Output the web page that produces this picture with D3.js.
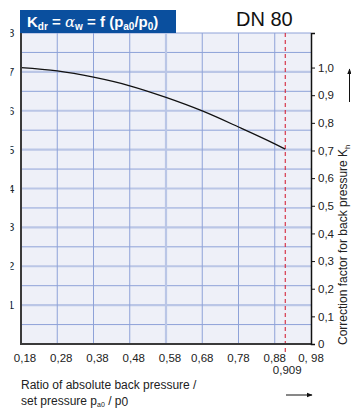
<!DOCTYPE html>
<html>
<head>
<meta charset="utf-8">
<script src="https://cdn.jsdelivr.net/npm/d3@7"></script>
<style>
  body { margin: 0; background: #fff; }
  svg { display: block; font-family: "Liberation Sans", Arial, sans-serif; }
</style>
</head>
<body>
<div id="chart"></div>
<script>
// curve Kdr over pa0/p0
const ratio = [0.18, 0.28, 0.38, 0.48, 0.58, 0.68, 0.78, 0.88, 0.909];
const kdr = [1.0, 0.988, 0.965, 0.934, 0.892, 0.843, 0.785, 0.724, 0.705];

const xTicks = [0.18, 0.28, 0.38, 0.48, 0.58, 0.68, 0.78, 0.88, 0.98];
const xTickLabels = ["0,18", "0,28", "0,38", "0,48", "0,58", "0,68", "0,78", "0,88", "0, 98"];
const yTicks = [0, 0.1, 0.2, 0.3, 0.4, 0.5, 0.6, 0.7, 0.8, 0.9, 1.0];
const leftTicks = [1, 2, 3, 4, 5, 6, 7, 8];
const limit = 0.909;

const width = 351, height = 412;
const margin = { top: 33, right: 40, bottom: 68, left: 21 };

const svg = d3.select("#chart").append("svg")
  .attr("width", width)
  .attr("height", height);

const x = d3.scaleLinear().domain([0.18, 0.98]).range([margin.left, width - margin.right]);
const y = d3.scaleLinear().domain([0, 1.125]).range([height - margin.bottom, margin.top]);
const yLeft = d3.scaleLinear().domain([0, 8]).range([height - margin.bottom, margin.top]);

const x0 = x.range()[0], x1 = x.range()[1];
const yB = y.range()[0], yT = y.range()[1];

// plot background
svg.append("rect")
  .attr("x", x0).attr("y", yT)
  .attr("width", x1 - x0).attr("height", yB - yT)
  .attr("fill", "#eef0f8");

// horizontal grid, half steps of the left scale
const hLines = d3.range(0.5, 8.01, 0.5);
svg.append("g").selectAll("line")
  .data(hLines)
  .join("line")
  .attr("x1", x0).attr("x2", x1)
  .attr("y1", d => yLeft(d)).attr("y2", d => yLeft(d))
  .attr("stroke", d => (d % 1 === 0 && d < 8) ? "#bac6e6" : "#8ea2d8")
  .attr("stroke-width", d => (d % 1 === 0 && d < 8) ? 2.2 : 1);

// vertical grid
svg.append("g").selectAll("line")
  .data(xTicks.slice(1, -1))
  .join("line")
  .attr("x1", d => x(d)).attr("x2", d => x(d))
  .attr("y1", yT).attr("y2", yB)
  .attr("stroke", d => d === 0.58 ? "#bac6e6" : "#8ea2d8")
  .attr("stroke-width", d => d === 0.58 ? 2.2 : 1);

// limit line
svg.append("line")
  .attr("x1", x(limit)).attr("x2", x(limit))
  .attr("y1", yT).attr("y2", yB + 9)
  .attr("stroke", "#d4263c")
  .attr("stroke-width", 1.1)
  .attr("stroke-dasharray", "4,3");

// curve
const pts = ratio.map((r, i) => [r, kdr[i]]);
const line = d3.line()
  .x(d => x(d[0]))
  .y(d => y(d[1]))
  .curve(d3.curveMonotoneX);

svg.append("path")
  .datum(pts)
  .attr("d", line)
  .attr("fill", "none")
  .attr("stroke", "#111")
  .attr("stroke-width", 1.3);

// frame lines
svg.append("line")
  .attr("x1", x0).attr("x2", x0).attr("y1", yT).attr("y2", yB + 1)
  .attr("stroke", "#3a3a3a").attr("stroke-width", 2);
svg.append("line")
  .attr("x1", x0 - 1).attr("x2", x1).attr("y1", yB).attr("y2", yB)
  .attr("stroke", "#3a3a3a").attr("stroke-width", 2);

// right axis
const yAxis = d3.axisRight(y)
  .tickValues(yTicks)
  .tickSize(4)
  .tickPadding(3)
  .tickFormat(d => d === 0 ? "0" : d3.format(".1f")(d).replace(".", ","));

const ya = svg.append("g")
  .attr("transform", `translate(${x1},0)`)
  .call(yAxis);
ya.select(".domain").attr("stroke", "#111").attr("stroke-width", 1.5);
ya.selectAll(".tick line").attr("stroke", "#111");
ya.selectAll(".tick text")
  .attr("fill", "#222")
  .style("font-size", "11.5px")
  .style("font-family", "Liberation Sans, Arial, sans-serif");

// bottom labels
svg.append("g").selectAll("text")
  .data(xTicks)
  .join("text")
  .attr("x", (d, i) => x(d) + (i < 5 ? 4 : 0))
  .attr("y", yB + 17.5)
  .attr("text-anchor", "middle")
  .attr("fill", "#222")
  .style("font-size", "11.5px")
  .text((d, i) => xTickLabels[i]);

svg.append("text")
  .attr("x", x(limit) + 2)
  .attr("y", yB + 29.5)
  .attr("text-anchor", "middle")
  .attr("fill", "#222")
  .style("font-size", "11.5px")
  .text("0,909");

// left labels, cut off at the image edge
svg.append("clipPath").attr("id", "leftClip")
  .append("rect").attr("x", 10.5).attr("y", 0).attr("width", 10).attr("height", height);

svg.append("g")
  .attr("clip-path", "url(#leftClip)")
  .selectAll("text")
  .data(leftTicks)
  .join("text")
  .attr("x", 14.5)
  .attr("y", d => yLeft(d))
  .attr("dy", "0.35em")
  .attr("text-anchor", "end")
  .attr("fill", "#222")
  .style("font-size", "11.5px")
  .text(d => d);

// header box
svg.append("rect")
  .attr("x", 20).attr("y", 10)
  .attr("width", 156).attr("height", 23)
  .attr("fill", "#0a4f9e");

const head = svg.append("text")
  .attr("x", 27).attr("y", 27)
  .attr("fill", "#fff")
  .style("font-size", "15px")
  .style("font-weight", "bold");
head.append("tspan").text("K");
head.append("tspan").attr("dy", 3).style("font-size", "10px").text("dr");
head.append("tspan").attr("dy", -3).text(" = ");
head.append("tspan").style("font-weight", "normal").style("font-family", "DejaVu Serif, serif").style("font-style", "italic").text("α");
head.append("tspan").attr("dy", 3).style("font-size", "10px").text("w");
head.append("tspan").attr("dy", -3).text(" = f (p");
head.append("tspan").attr("dy", 3).style("font-size", "10px").text("a0");
head.append("tspan").attr("dy", -3).text("/p");
head.append("tspan").attr("dy", 3).style("font-size", "10px").text("0");
head.append("tspan").attr("dy", -3).text(")");

svg.append("text")
  .attr("x", 236).attr("y", 26)
  .attr("fill", "#111")
  .style("font-size", "20px")
  .text("DN 80");

// right title
const rt = svg.append("text")
  .attr("transform", `translate(347,${yB + 1}) rotate(-90)`)
  .attr("fill", "#222")
  .style("font-size", "12px");
rt.append("tspan").text("Correction factor for back pressure K");
rt.append("tspan").attr("dy", 3).style("font-size", "8px").text("h");

// arrows
svg.append("defs").append("marker")
  .attr("id", "arr")
  .attr("viewBox", "0 0 10 10")
  .attr("refX", 9).attr("refY", 5)
  .attr("markerWidth", 6).attr("markerHeight", 6)
  .attr("markerUnits", "userSpaceOnUse")
  .attr("orient", "auto")
  .append("path").attr("d", "M0,1 L10,5 L0,9 Z").attr("fill", "#111");

svg.append("line")
  .attr("x1", 349.5).attr("x2", 349.5).attr("y1", 102).attr("y2", 69)
  .attr("stroke", "#111").attr("stroke-width", 1)
  .attr("marker-end", "url(#arr)");

svg.append("line")
  .attr("x1", 286).attr("x2", 312).attr("y1", 395).attr("y2", 395)
  .attr("stroke", "#111").attr("stroke-width", 1)
  .attr("marker-end", "url(#arr)");

// bottom title
svg.append("text")
  .attr("x", 21).attr("y", 389)
  .attr("fill", "#222")
  .style("font-size", "12px")
  .text("Ratio of absolute back pressure /");

const bt = svg.append("text")
  .attr("x", 21).attr("y", 405)
  .attr("fill", "#222")
  .style("font-size", "12px");
bt.append("tspan").text("set pressure p");
bt.append("tspan").attr("dy", 2).style("font-size", "7px").text("a0");
bt.append("tspan").attr("dy", -2).text(" / p");
bt.append("tspan").attr("dy", 1).text("0");
</script>
</body>
</html>
